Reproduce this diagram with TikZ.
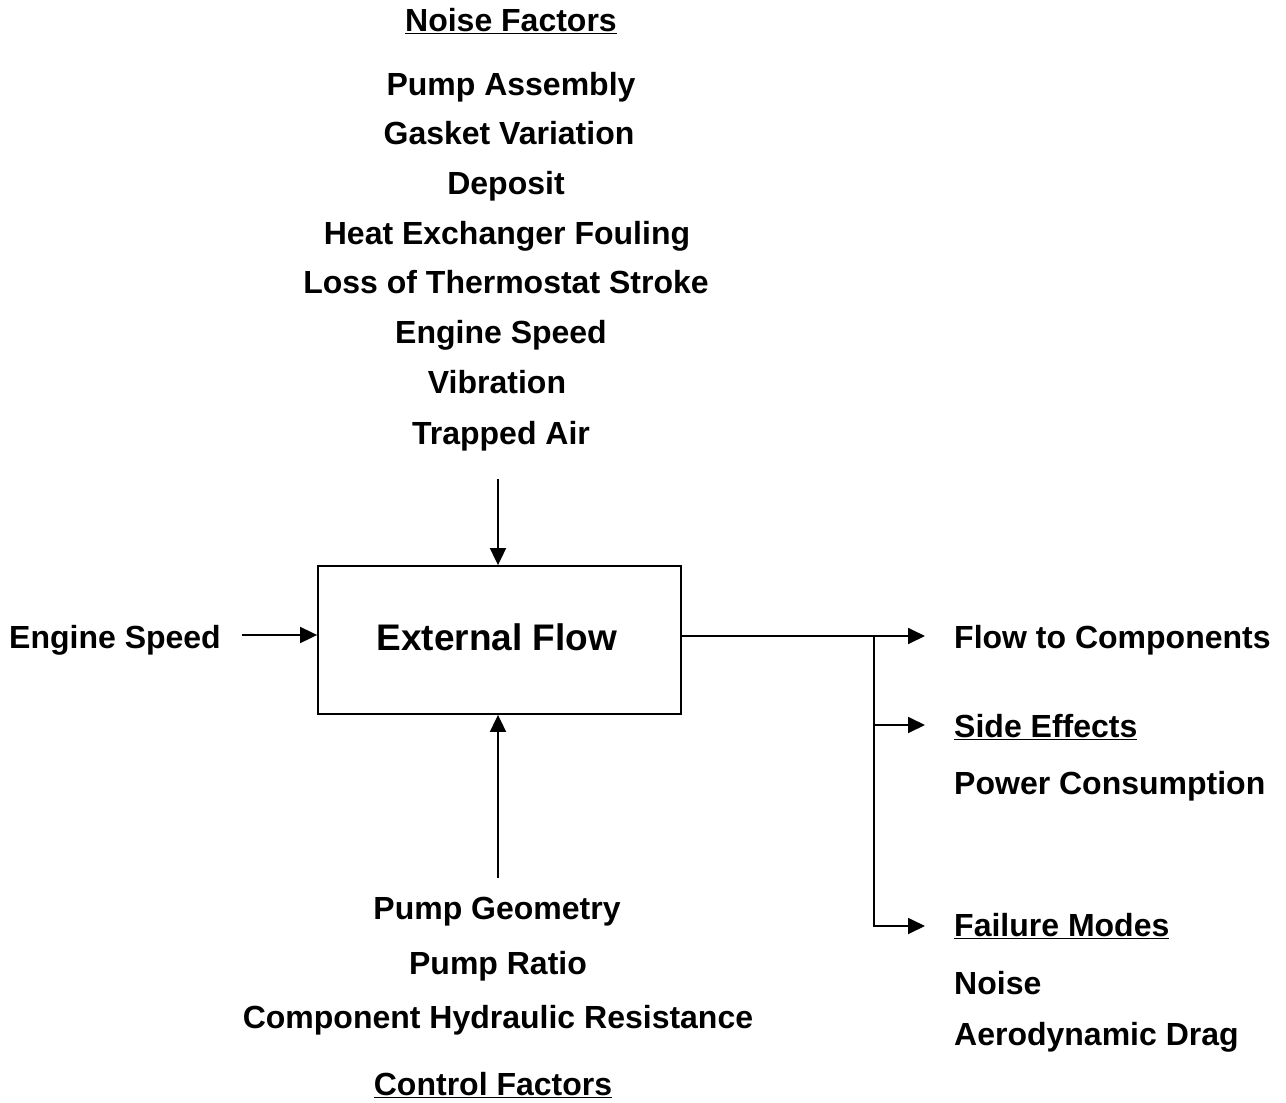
\documentclass[tikz,border=0pt]{standalone}
\usepackage{fontspec}
\setmainfont{Liberation Sans}
\usetikzlibrary{arrows.meta}
\begin{document}
\begin{tikzpicture}[x=1pt,y=-1pt,
  lbl/.style={font=\bfseries\fontsize{32}{38}\selectfont, inner sep=0pt, anchor=base},
  lblw/.style={lbl, anchor=base west},
  big/.style={font=\bfseries\fontsize{37}{44}\selectfont, inner sep=0pt},
  conn/.style={line width=1.8pt, -{Triangle[length=17pt,width=16pt]}},
  plain/.style={line width=1.8pt}]
\useasboundingbox (0,0) rectangle (1286,1103);

% central block
\node[draw, line width=1.8pt, minimum width=363pt, minimum height=148pt, inner sep=0pt] (box) at (499.5,640) {};
\node[big, anchor=base] (title) at (497,650) {External Flow};

% noise factors
\node[lbl] (nf) at (511,31) {\underline{Noise Factors}};
\node[lbl] (n1) at (511,95) {Pump Assembly};
\node[lbl] (n2) at (509,144) {Gasket Variation};
\node[lbl] (n3) at (506,194) {Deposit};
\node[lbl] (n4) at (507,244) {Heat Exchanger Fouling};
\node[lbl] (n5) at (506,293) {Loss of Thermostat Stroke};
\node[lbl] (n6) at (501,343) {Engine Speed};
\node[lbl] (n7) at (497,393) {Vibration};
\node[lbl] (n8) at (501,444) {Trapped Air};

% signal input
\node[lblw] (sig) at (9,648) {Engine Speed};

% control factors
\node[lbl] (c1) at (497,919) {Pump Geometry};
\node[lbl] (c2) at (498,974) {Pump Ratio};
\node[lbl] (c3) at (498,1028) {Component Hydraulic Resistance};
\node[lbl] (cf) at (493,1095) {\underline{Control Factors}};

% outputs
\node[lblw] (o1) at (954,648) {Flow to Components};
\node[lblw] (o2) at (954,737) {\underline{Side Effects}};
\node[lblw] (o3) at (954,794) {Power Consumption};
\node[lblw] (o4) at (954,936) {\underline{Failure Modes}};
\node[lblw] (o5) at (954,994) {Noise};
\node[lblw] (o6) at (954,1045) {Aerodynamic Drag};

% connector end points
\coordinate (na) at (498,479);
\coordinate (ca) at (498,878);
\coordinate (sa) at (242,635);
\coordinate (j) at (874,636);
\coordinate (t1) at (925,636);
\coordinate (j2) at (874,725);
\coordinate (t2) at (925,725);
\coordinate (j3) at (874,926);
\coordinate (t3) at (925,926);

% connectors
\draw[conn] (na) -- (na |- box.north);
\draw[conn] (ca) -- (ca |- box.south);
\draw[conn] (sa) -- (sa -| box.west);
\draw[conn] (box.east |- j) -- (t1);
\draw[plain] (j) -- (j3);
\draw[conn] (j2) -- (t2);
\draw[conn] ([xshift=-0.9pt]j3) -- (t3);
\end{tikzpicture}
\end{document}
